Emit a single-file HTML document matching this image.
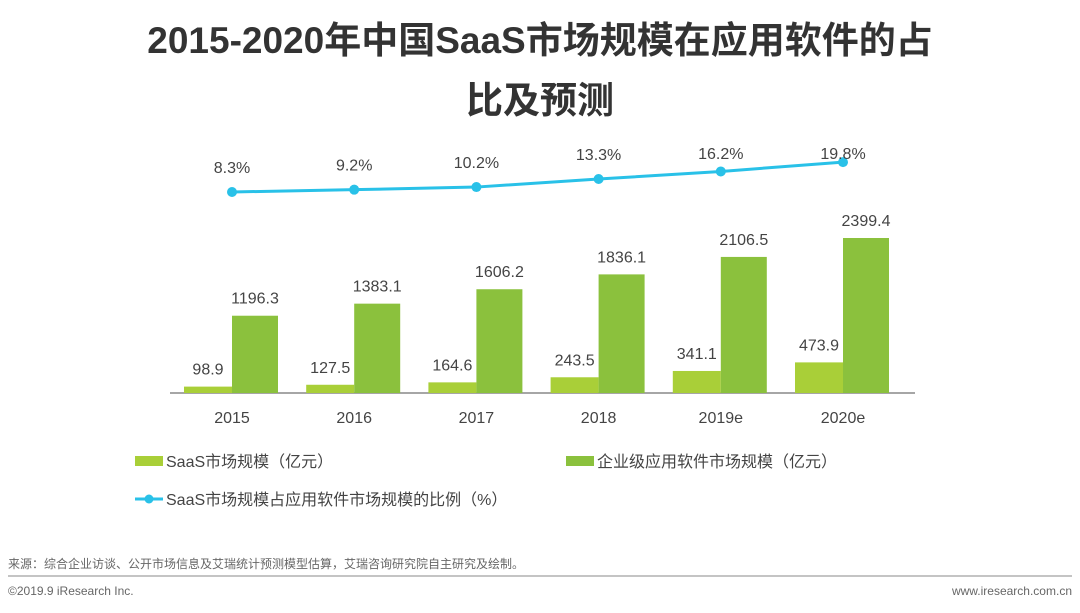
<!DOCTYPE html>
<html><head><meta charset="utf-8">
<style>
body{margin:0;background:#fff;width:1080px;height:608px;overflow:hidden;font-family:"Liberation Sans","Noto Sans CJK SC",sans-serif;}
svg text{font-family:"Liberation Sans","Noto Sans CJK SC",sans-serif;}
</style></head>
<body>
<svg width="1080" height="608">
<text x="540" y="53" text-anchor="middle" font-size="37" font-weight="bold" fill="#333">2015-2020年中国SaaS市场规模在应用软件的占</text>
<text x="540" y="113" text-anchor="middle" font-size="37" font-weight="bold" fill="#333">比及预测</text>
<g id="plot"></g>
<g>
<rect x="135" y="456" width="28" height="10" fill="#a9cf38"/>
<text x="166" y="467" font-size="16" fill="#444">SaaS市场规模（亿元）</text>
<rect x="566" y="456" width="28" height="10" fill="#8bc13d"/>
<text x="597" y="467" font-size="16" fill="#444">企业级应用软件市场规模（亿元）</text>
<line x1="135" y1="499" x2="163" y2="499" stroke="#29c1e8" stroke-width="3"/>
<circle cx="149" cy="499" r="4.5" fill="#29c1e8"/>
<text x="166" y="505" font-size="16" fill="#444">SaaS市场规模占应用软件市场规模的比例（%）</text>
</g>
<text x="8" y="568" font-size="12" fill="#666">来源：综合企业访谈、公开市场信息及艾瑞统计预测模型估算，艾瑞咨询研究院自主研究及绘制。</text>
<line x1="8" y1="576" x2="1072" y2="576" stroke="#888" stroke-width="1"/>
<text x="8" y="595" font-size="12" fill="#666">©2019.9 iResearch Inc.</text>
<text x="1072" y="595" text-anchor="end" font-size="12" fill="#666">www.iresearch.com.cn</text>
</svg>
<script>
const categories=["2015","2016","2017","2018","2019e","2020e"];
const saasValues=[98.9,127.5,164.6,243.5,341.1,473.9];
const softwareValues=[1196.3,1383.1,1606.2,1836.1,2106.5,2399.4];
const ratioValues=[8.3,9.2,10.2,13.3,16.2,19.8];

const NS="http://www.w3.org/2000/svg";
const g=document.getElementById('plot');
const baseY=393, x0=232, step=122.2, bw=46;
const xPos=i=>x0+i*step;
const yBar=v=>baseY-v*0.0646;
const yLine=p=>192-(p-8.3)*2.6;
function mk(tag,attrs){const e=document.createElementNS(NS,tag);for(const k in attrs)e.setAttribute(k,attrs[k]);g.appendChild(e);return e;}
function txt(x,y,s,size,fill){const t=mk('text',{x:x,y:y,'text-anchor':'middle','font-size':size,fill:fill});t.textContent=s;return t;}

const axis=mk('line',{x1:170,y1:baseY,x2:915,y2:baseY,stroke:'#888','stroke-width':1.5});



categories.forEach((c,i)=>{
  const cx=xPos(i);
  const y1=yBar(saasValues[i]);
  const b1=mk('rect',{x:cx-bw-2,y:y1,width:bw+2,height:baseY-y1,fill:'#a9cf38'});
  
  
  const l1=txt(cx-24,y1-12,saasValues[i].toFixed(1),16,'#444');
  
  
  const y2=yBar(softwareValues[i]);
  const b2=mk('rect',{x:cx,y:y2,width:bw,height:baseY-y2,fill:'#8bc13d'});
  
  
  const l2=txt(cx+23,y2-12,softwareValues[i].toFixed(1),16,'#444');
  
  
  const tl=txt(cx,423,c,16,'#444');
  
  
});

const pts=ratioValues.map((p,i)=>xPos(i)+','+yLine(p)).join(' ');
const pl=mk('polyline',{points:pts,fill:'none',stroke:'#29c1e8','stroke-width':3});


ratioValues.forEach((p,i)=>{
  const cx=xPos(i),cy=yLine(p);
  const d=mk('circle',{cx:cx,cy:cy,r:5,fill:'#29c1e8'});
  
  
  const t=txt(cx,Math.max(cy-19,159),p.toFixed(1)+'%',16,'#444');
  
  
});
</script>
</body></html>
